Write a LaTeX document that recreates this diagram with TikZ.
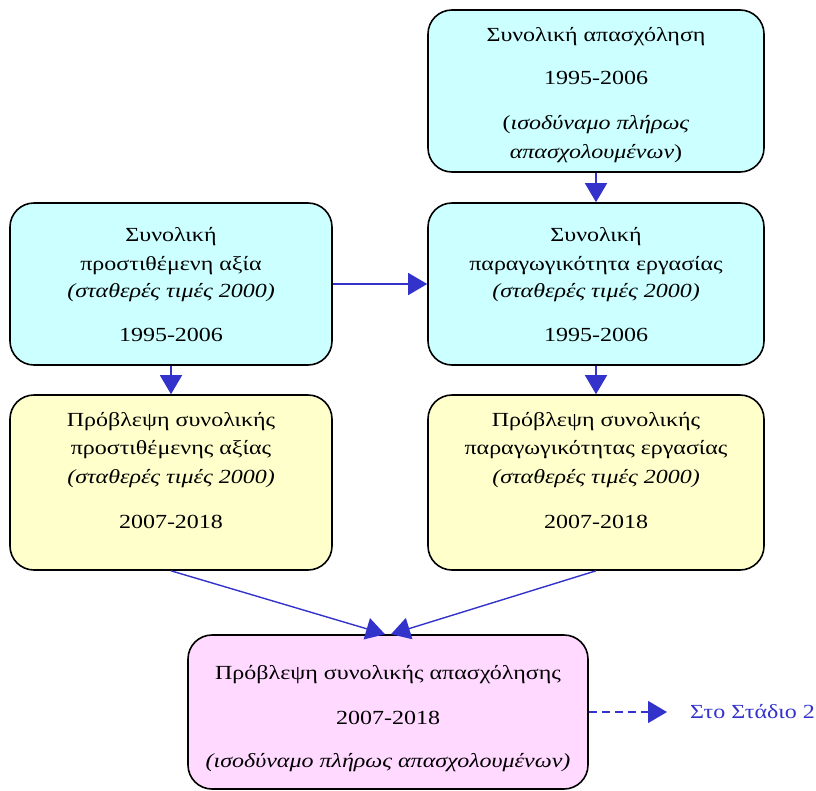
\documentclass[tikz,border=0pt]{standalone}
\usepackage{fontspec}
\setmainfont{Liberation Serif}[FakeStretch=1.2]
\usetikzlibrary{fit,arrows.meta}
\definecolor{cyanf}{HTML}{CCFFFF}
\definecolor{yelf}{HTML}{FFFFCC}
\definecolor{pinkf}{HTML}{FFD9FF}
\definecolor{arr}{HTML}{3333CC}
\begin{document}
\begin{tikzpicture}[x=1pt,y=-1pt,
  box/.style={draw=black,line width=1.6pt,rounded corners=24pt,inner sep=0pt},
  txt/.style={anchor=mid,inner sep=0pt,font=\fontsize{20}{24}\selectfont},
  con/.style={draw=arr,line width=1.4pt,-{Triangle[length=19pt,width=22pt]}}]
\useasboundingbox (0,0) rectangle (816,790);
% boxes
\node[box,fill=cyanf,fit={(428,10) (764,172)}] (A) {};
\node[box,fill=cyanf,fit={(10,203) (332,365)}] (B) {};
\node[box,fill=cyanf,fit={(428,203) (764,365)}] (C) {};
\node[box,fill=yelf,fit={(10,395) (332,570)}] (D) {};
\node[box,fill=yelf,fit={(428,395) (764,570)}] (E) {};
\node[box,fill=pinkf,fit={(188,635) (588,789)}] (F) {};
% texts A
\node[txt] (a1) at (596,39) {Συνολική απασχόληση};
\node[txt] (a2) at (596,82) {1995-2006};
\node[txt] (a3) at (596,127) {(\textit{ισοδύναμο πλήρως}};
\node[txt] (a4) at (596,156) {\textit{απασχολουμένων})};
% texts B
\node[txt] (b1) at (171,239) {Συνολική};
\node[txt] (b2) at (171,268) {προστιθέμενη αξία};
\node[txt] (b3) at (171,295) {\textit{(σταθερές τιμές 2000)}};
\node[txt] (b4) at (171,339) {1995-2006};
% texts C
\node[txt] (c1) at (596,239) {Συνολική};
\node[txt] (c2) at (596,268) {παραγωγικότητα εργασίας};
\node[txt] (c3) at (596,295) {\textit{(σταθερές τιμές 2000)}};
\node[txt] (c4) at (596,339) {1995-2006};
% texts D
\node[txt] (d1) at (171,424) {Πρόβλεψη συνολικής};
\node[txt] (d2) at (171,452) {προστιθέμενης αξίας};
\node[txt] (d3) at (171,481) {\textit{(σταθερές τιμές 2000)}};
\node[txt] (d4) at (171,526) {2007-2018};
% texts E
\node[txt] (e1) at (596,424) {Πρόβλεψη συνολικής};
\node[txt] (e2) at (596,452) {παραγωγικότητας εργασίας};
\node[txt] (e3) at (596,481) {\textit{(σταθερές τιμές 2000)}};
\node[txt] (e4) at (596,526) {2007-2018};
% texts F
\node[txt] (f1) at (388,677) {Πρόβλεψη συνολικής απασχόλησης};
\node[txt] (f2) at (388,722) {2007-2018};
\node[txt] (f3) at (388,765) {\textit{(ισοδύναμο πλήρως απασχολουμένων)}};
% stage label
\node[txt,anchor=west,text=arr] (S) at (690,712) {Στο Στάδιο 2};
% connectors
\draw[con] (A.south) -- (C.north);
\draw[con] (B.east) -- (C.west);
\draw[con] (B.south) -- (D.north);
\draw[con] (C.south) -- (E.north);
\coordinate (fl) at ([xshift=-3pt]F.north);
\coordinate (fr) at ([xshift=3pt]F.north);
\draw[con] (D.south) -- (fl);
\draw[con] (E.south) -- (fr);
\coordinate (se) at (667,712);
\draw[con,dash pattern=on 8pt off 5pt] (F.east) -- (se);
\end{tikzpicture}
\end{document}
